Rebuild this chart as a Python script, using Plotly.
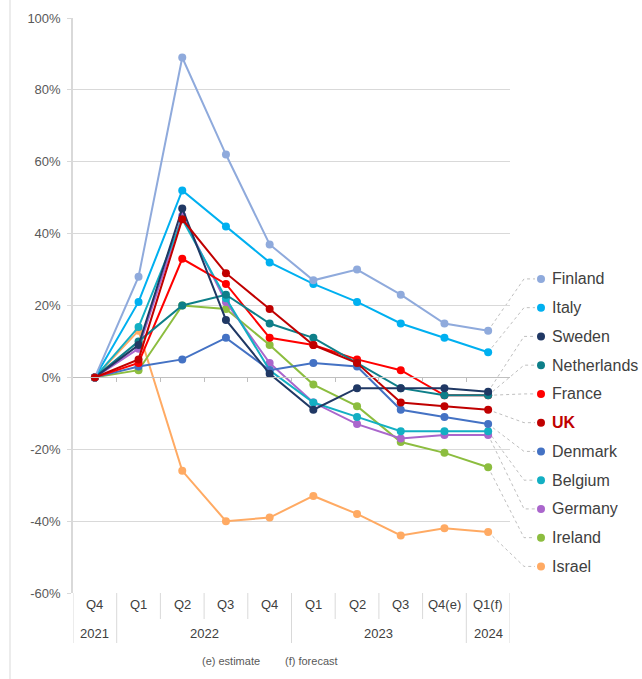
import plotly.graph_objects as go

quarters = ["Q4", "Q1", "Q2", "Q3", "Q4", "Q1", "Q2", "Q3", "Q4(e)", "Q1(f)"]
years = ["2021", "2022", "2023", "2024"]
year_spans = [(0, 0), (1, 4), (5, 8), (9, 9)]
y_ticks = [-60, -40, -20, 0, 20, 40, 60, 80, 100]

countries = ["Finland", "Italy", "Sweden", "Netherlands", "France", "UK",
             "Denmark", "Belgium", "Germany", "Ireland", "Israel"]
finland = [0, 28, 89, 62, 37, 27, 30, 23, 15, 13]
italy = [0, 21, 52, 42, 32, 26, 21, 15, 11, 7]
sweden = [0, 9, 47, 16, 1, -9, -3, -3, -3, -4]
netherlands = [0, 10, 20, 23, 15, 11, 4, -3, -5, -5]
france = [0, 4, 33, 26, 11, 9, 5, 2, -5, -5]
uk = [0, 5, 44, 29, 19, 9, 4, -7, -8, -9]
denmark = [0, 3, 5, 11, 2, 4, 3, -9, -11, -13]
belgium = [0, 14, 44, 22, 2, -7, -11, -15, -15, -15]
germany = [0, 8, 45, 21, 4, -7, -13, -17, -16, -16]
ireland = [0, 2, 20, 19, 9, -2, -8, -18, -21, -25]
israel = [0, 13, -26, -40, -39, -33, -38, -44, -42, -43]

values = {"Finland": finland, "Italy": italy, "Sweden": sweden,
          "Netherlands": netherlands, "France": france, "UK": uk,
          "Denmark": denmark, "Belgium": belgium, "Germany": germany,
          "Ireland": ireland, "Israel": israel}
colors = {"Finland": "#8FAADC", "Italy": "#00B0F0", "Sweden": "#203864",
          "Netherlands": "#0E7F89", "France": "#FF0000", "UK": "#C00000",
          "Denmark": "#4472C4", "Belgium": "#13AFC3", "Germany": "#AA66CC",
          "Ireland": "#8CBD3F", "Israel": "#FFAA63"}
draw_order = ["Israel", "Ireland", "Germany", "Belgium", "Denmark", "France",
              "Netherlands", "Sweden", "Italy", "Finland", "UK"]

FONT = "Liberation Sans, Arial"

# layout geometry (pixels)
W, H = 642, 679
L, R, T, B = 73, 510, 18, 593
pw, ph = R - L, B - T
ymin, ymax = -60, 100
n = len(quarters)

def px2paper_x(px):
    return (px - L) / pw

def px2paper_y(py):
    return (B - py) / ph

def val2paper_y(v):
    return (v - ymin) / (ymax - ymin)

xs = list(range(n))
fig = go.Figure()
for c in draw_order:
    fig.add_trace(go.Scatter(
        x=xs, y=values[c], mode="lines+markers", name=c,
        line=dict(color=colors[c], width=2),
        marker=dict(color=colors[c], size=8),
        showlegend=False, hoverinfo="skip"))

shapes = []
annotations = []

# category separators below the plot
for k in range(n + 1):
    xb = k - 0.5
    is_year = k in (0, 1, 5, 9, 10)
    y1 = px2paper_y(643) if is_year else px2paper_y(619)
    shapes.append(dict(type="line", xref="x", yref="paper", x0=xb, x1=xb,
                       y0=0, y1=y1, line=dict(color="#D9D9D9", width=1)))

for i, q in enumerate(quarters):
    annotations.append(dict(x=i, y=px2paper_y(604), xref="x", yref="paper",
                            text=q, showarrow=False, xanchor="center", yanchor="middle",
                            font=dict(size=13, color="#404040", family=FONT)))
for yr, (a, b) in zip(years, year_spans):
    annotations.append(dict(x=(a + b) / 2, y=px2paper_y(634), xref="x", yref="paper",
                            text=yr, showarrow=False, xanchor="center", yanchor="middle",
                            font=dict(size=13, color="#404040", family=FONT)))

annotations.append(dict(x=px2paper_x(231), y=px2paper_y(661), xref="paper", yref="paper",
                        text="(e) estimate", showarrow=False, xanchor="center", yanchor="middle",
                        font=dict(size=11, color="#595959", family=FONT)))
annotations.append(dict(x=px2paper_x(311), y=px2paper_y(661), xref="paper", yref="paper",
                        text="(f) forecast", showarrow=False, xanchor="center", yanchor="middle",
                        font=dict(size=11, color="#595959", family=FONT)))

# legend with leader lines
leg_top_val = 27.4
leg_step = 8.0
x_end = (n - 1 + 0.5) / n
for i, c in enumerate(countries):
    ly = val2paper_y(leg_top_val - leg_step * i)
    vy = val2paper_y(values[c][-1])
    elbow = px2paper_x(524)
    hend = px2paper_x(535)
    shapes.append(dict(type="path", xref="paper", yref="paper",
                       path=f"M {x_end},{vy} L {elbow},{ly} L {hend},{ly}",
                       line=dict(color="#BFBFBF", width=1, dash="dot"), layer="below"))
    cx = px2paper_x(541)
    rx = 4 / pw
    ry = 4 / ph
    shapes.append(dict(type="circle", xref="paper", yref="paper",
                       x0=cx - rx, x1=cx + rx, y0=ly - ry, y1=ly + ry,
                       fillcolor=colors[c], line=dict(color=colors[c], width=0)))
    txt = f"<b>{c}</b>" if c == "UK" else c
    col = "#C00000" if c == "UK" else "#404040"
    annotations.append(dict(x=px2paper_x(550), y=ly, xref="paper", yref="paper",
                            text=txt, showarrow=False, xanchor="left", yanchor="middle",
                            font=dict(size=16, color=col, family=FONT)))

# left border of chart
shapes.append(dict(type="line", xref="paper", yref="paper",
                   x0=px2paper_x(10), x1=px2paper_x(10),
                   y0=px2paper_y(H), y1=px2paper_y(0),
                   line=dict(color="#D9D9D9", width=1)))

fig.update_layout(
    width=W, height=H,
    margin=dict(l=L, r=W - R, t=T, b=H - B),
    paper_bgcolor="white", plot_bgcolor="white",
    shapes=shapes, annotations=annotations,
    xaxis=dict(range=[-0.5, n - 0.5], showgrid=False, zeroline=False,
               anchor="free", position=val2paper_y(0),
               showline=True, linecolor="#BFBFBF", linewidth=1,
               tickmode="array", tickvals=[k + 0.5 for k in range(n - 1)],
               ticks="outside", ticklen=4, tickcolor="#BFBFBF",
               showticklabels=False, fixedrange=True),
    yaxis=dict(range=[ymin, ymax], tickmode="array", tickvals=y_ticks,
               ticktext=[f"{v}%" for v in y_ticks],
               showgrid=True, gridcolor="#D9D9D9", gridwidth=1,
               zeroline=False, showline=True, linecolor="#D9D9D9", linewidth=1.5,
               ticks="outside", ticklen=4, tickcolor="#D9D9D9",
               tickfont=dict(size=13, color="#595959", family=FONT),
               ticklabelstandoff=4),
)

fig.write_html("out.html")
